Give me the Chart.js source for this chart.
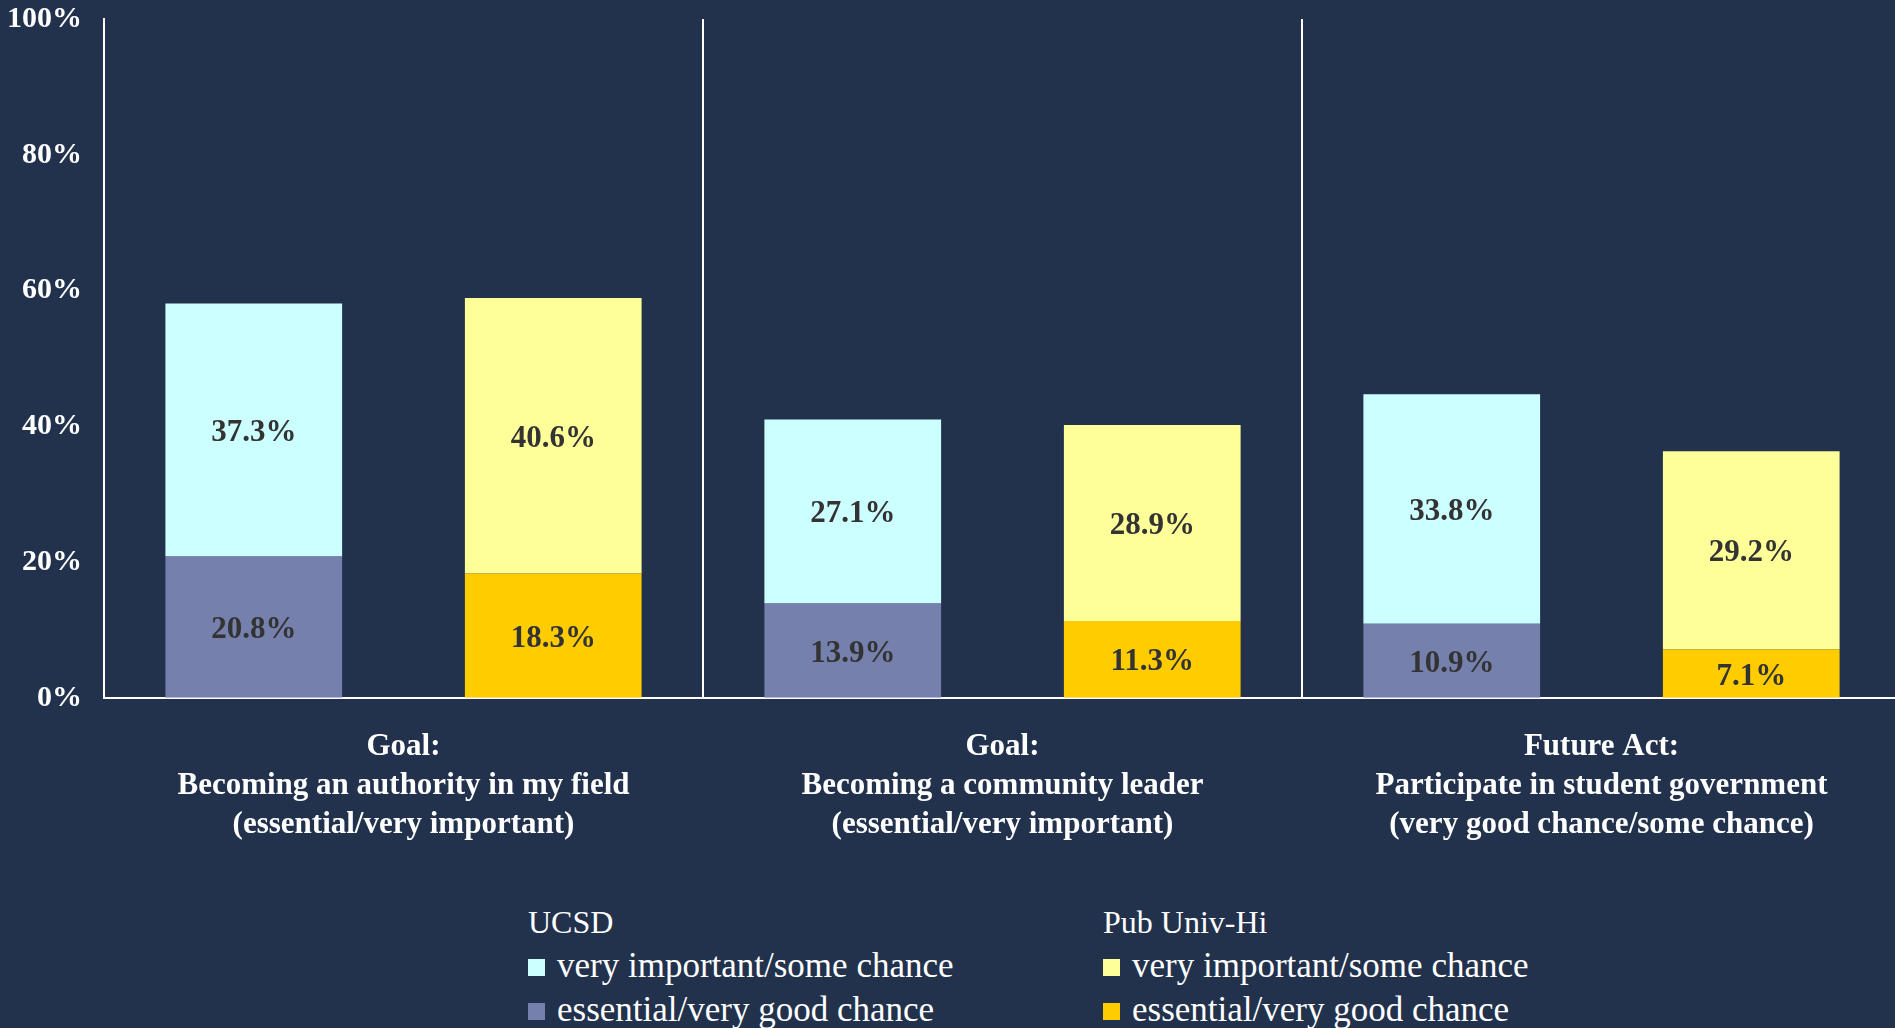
<!DOCTYPE html>
<html>
<head>
<meta charset="utf-8">
<script src="https://cdn.jsdelivr.net/npm/chart.js@4"></script>
<style>
  html,body{margin:0;padding:0;background:#22324d;overflow:hidden;}
  #wrap{position:relative;width:1895px;height:1028px;overflow:hidden;}
  #chart{position:absolute;left:0;top:-21px;}
  .legend{position:absolute;color:#fff;font-family:"Liberation Serif",serif;font-size:35px;line-height:44px;}
  .legend .item{white-space:nowrap;}
  .legend .head{font-size:32px;}
  .legend .sw{display:inline-block;width:17px;height:17px;margin-right:12px;vertical-align:1px;}
</style>
</head>
<body>
<div id="wrap">
  <canvas id="chart" width="1901" height="895"></canvas>
  <div class="legend" id="legUcsd" style="left:528px;top:900px"></div>
  <div class="legend" id="legPub" style="left:1103px;top:900px"></div>
</div>
<script>
const categories = [
  ["Goal:", "Becoming an authority in my field", "(essential/very important)"],
  ["Goal:", "Becoming a community leader", "(essential/very important)"],
  ["Future Act:", "Participate in student government", "(very good chance/some chance)"]
];
const ucsdEssential = [20.8, 13.9, 10.9];
const ucsdImportant = [37.3, 27.1, 33.8];
const pubEssential  = [18.3, 11.3, 7.1];
const pubImportant  = [40.6, 28.9, 29.2];
const yTicks = [0, 20, 40, 60, 80, 100];

const FONT = "'Liberation Serif', serif";

const datasets = [
  {label:"essential/very good chance", group:"UCSD", data:ucsdEssential, backgroundColor:"#7580ad", stack:"ucsd"},
  {label:"very important/some chance", group:"UCSD", data:ucsdImportant, backgroundColor:"#ccffff", stack:"ucsd"},
  {label:"essential/very good chance", group:"Pub Univ-Hi", data:pubEssential, backgroundColor:"#ffcc00", stack:"pub"},
  {label:"very important/some chance", group:"Pub Univ-Hi", data:pubImportant, backgroundColor:"#ffff99", stack:"pub"}
];

// value labels in the middle of each segment
const segLabels = {
  id:"segLabels",
  afterDatasetsDraw(c){
    const ctx=c.ctx;
    ctx.save();
    ctx.font="bold 31px "+FONT;
    ctx.fillStyle="#333333";
    ctx.textAlign="center";
    ctx.textBaseline="middle";
    c.data.datasets.forEach((ds,i)=>{
      c.getDatasetMeta(i).data.forEach((el,j)=>{
        ctx.fillText(ds.data[j].toFixed(1)+"%", el.x, (el.y+el.base)/2+3);
      });
    });
    ctx.restore();
  }
};

new Chart(document.getElementById("chart"),{
  type:"bar",
  data:{labels:categories, datasets:datasets},
  options:{
    responsive:false,
    animation:false,
    layout:{padding:{top:4,left:0,right:0,bottom:0}},
    plugins:{legend:{display:false}, tooltip:{enabled:false}},
    datasets:{bar:{categoryPercentage:1.0, barPercentage:0.59}},
    scales:{
      x:{
        stacked:true,
        grid:{offset:true, drawTicks:false, lineWidth:2,
          color:ctx=>ctx.index>=categories.length?"rgba(0,0,0,0)":"#ffffff"},
        border:{color:"#ffffff", width:2},
        ticks:{color:"#ffffff", padding:30, font:{family:FONT, size:31, weight:"bold", lineHeight:1.25}}
      },
      y:{
        stacked:true, min:0, max:100,
        afterBuildTicks:ax=>{ax.ticks=yTicks.map(v=>({value:v}));},
        afterFit:ax=>{ax.width=104;},
        grid:{display:false, drawTicks:false},
        border:{color:"#ffffff", width:2},
        ticks:{color:"#ffffff", padding:22, callback:v=>v+"%", font:{family:FONT, size:30, weight:"bold"}}
      }
    }
  },
  plugins:[segLabels]
});

function buildLegend(el, group){
  let html='<div class="item head">'+group+'</div>';
  datasets.filter(d=>d.group===group).slice().reverse().forEach(d=>{
    html+='<div class="item"><span class="sw" style="background:'+d.backgroundColor+'"></span>'+d.label+'</div>';
  });
  el.innerHTML=html;
}
buildLegend(document.getElementById("legUcsd"),"UCSD");
buildLegend(document.getElementById("legPub"),"Pub Univ-Hi");
</script>
</body>
</html>
